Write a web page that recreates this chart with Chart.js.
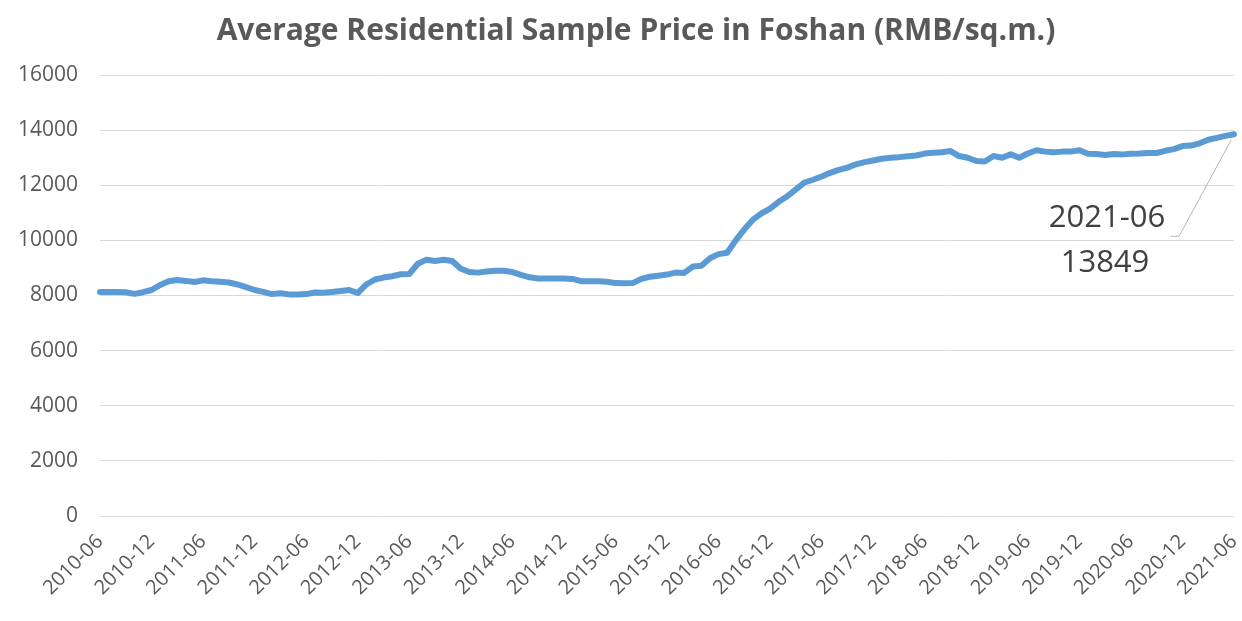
<!DOCTYPE html>
<html>
<head>
    <title>Average Residential Sample Price in Foshan</title>
    <script src="https://cdn.jsdelivr.net/npm/chart.js"></script>
    <style>
        * { margin: 0; padding: 0; box-sizing: border-box; }
        body { background: #ffffff; width: 1242px; height: 621px; overflow: hidden; }
        .chart-container { position: relative; width: 1242px; height: 621px; }
    </style>
</head>
<body>
    <div class="chart-container">
        <canvas id="priceChart"></canvas>
    </div>

    <script>
        // Months from 2010-06 to 2021-06
        const months = [];
        for (let y = 2010, m = 6; y < 2021 || (y === 2021 && m <= 6); m++) {
            if (m > 12) { m = 1; y++; }
            months.push(`${y}-${String(m).padStart(2, '0')}`);
        }

        // Average sample price (RMB/sq.m.), one value per month
        const prices = [
            8130, 8130, 8130, 8120, 8060, 8120, 8200,                           // 2010-06 .. 2010-12
            8380, 8520, 8560, 8530, 8490, 8550, 8520, 8500, 8470, 8400, 8300, 8200, // 2011
            8130, 8050, 8080, 8040, 8040, 8050, 8110, 8100, 8130, 8160, 8200, 8090, // 2012
            8400, 8580, 8650, 8700, 8770, 8780, 9150, 9300, 9250, 9300, 9250, 8970, // 2013
            8850, 8830, 8870, 8900, 8900, 8850, 8750, 8660, 8620, 8620, 8620, 8620, // 2014
            8600, 8520, 8520, 8520, 8500, 8450, 8440, 8450, 8600, 8680, 8720, 8760, // 2015
            8830, 8820, 9050, 9080, 9350, 9500, 9550, 10000, 10400, 10750, 10980, 11150, // 2016
            11400, 11600, 11850, 12100, 12200, 12320, 12450, 12560, 12640, 12760, 12840, 12900, // 2017
            12960, 13000, 13020, 13050, 13080, 13150, 13180, 13200, 13240, 13060, 13000, 12880, // 2018
            12860, 13060, 13000, 13120, 13000, 13150, 13270, 13220, 13200, 13220, 13220, 13270, // 2019
            13140, 13130, 13100, 13130, 13120, 13140, 13150, 13170, 13170, 13250, 13310, 13420, // 2020
            13440, 13520, 13650, 13720, 13790, 13849                             // 2021-01 .. 2021-06
        ];

        const yTicks = [0, 2000, 4000, 6000, 8000, 10000, 12000, 14000, 16000];

        const chartTitle = 'Average Residential Sample Price in Foshan (RMB/sq.m.)';

        const FONT = "'Open Sans', 'Noto Sans', sans-serif";

        // Title, drawn a little left of the plot centre as in the original
        const titlePlugin = {
            id: 'titlePlugin',
            afterDraw(chart) {
                const ctx = chart.ctx;
                ctx.save();
                ctx.fillStyle = '#595959';
                ctx.font = `bold 30px ${FONT}`;
                ctx.textAlign = 'center';
                ctx.textBaseline = 'middle';
                ctx.fillText(chartTitle, 636, 31);
                ctx.restore();
            }
        };

        // Callout for the last point
        const lastLabel = {
            id: 'lastLabel',
            afterDatasetsDraw(chart) {
                const meta = chart.getDatasetMeta(0);
                const pt = meta.data[meta.data.length - 1];
                const ctx = chart.ctx;
                ctx.save();
                ctx.strokeStyle = '#b4b4b4';
                ctx.lineWidth = 1;
                ctx.beginPath();
                ctx.moveTo(pt.x - 3, pt.y + 6);
                ctx.lineTo(pt.x - 55, pt.y + 102);
                ctx.lineTo(pt.x - 63, pt.y + 102);
                ctx.stroke();
                ctx.fillStyle = '#404040';
                ctx.font = `31px ${FONT}`;
                ctx.textAlign = 'center';
                ctx.textBaseline = 'middle';
                ctx.fillText(months[months.length - 1], pt.x - 127, pt.y + 84);
                ctx.fillText(String(prices[prices.length - 1]), pt.x - 129, pt.y + 129);
                ctx.restore();
            }
        };

        const config = {
            type: 'line',
            data: {
                labels: months,
                datasets: [{
                    data: prices,
                    borderColor: '#5b9bd5',
                    borderWidth: 6,
                    pointRadius: 0,
                    tension: 0,
                    borderJoinStyle: 'round',
                    borderCapStyle: 'round',
                    fill: false
                }]
            },
            options: {
                responsive: true,
                maintainAspectRatio: false,
                animation: false,
                layout: { padding: { left: 0, right: 8, top: 75, bottom: 0 } },
                scales: {
                    x: {
                        offset: false,
                        grid: { display: false, drawTicks: false },
                        border: { display: false },
                        ticks: {
                            autoSkip: false,
                            maxRotation: 45,
                            minRotation: 45,
                            padding: 14,
                            color: '#595959',
                            font: { family: FONT, size: 20 },
                            callback: (v, i) => (i % 6 === 0 ? months[i] : null)
                        },
                        afterFit: (s) => { s.height = 105; s.paddingLeft = 0; s.paddingRight = 0; }
                    },
                    y: {
                        min: 0,
                        max: 16000,
                        afterBuildTicks: (s) => { s.ticks = yTicks.map(v => ({ value: v })); },
                        grid: { color: '#d9d9d9', lineWidth: 1, drawTicks: false },
                        border: { display: false },
                        ticks: {
                            padding: 22,
                            color: '#595959',
                            font: { family: FONT, size: 21 },
                            callback: (v) => String(v)
                        },
                        afterFit: (s) => { s.width = 100; }
                    }
                },
                plugins: {
                    legend: { display: false },
                    tooltip: { enabled: false },
                    title: { display: false }
                }
            },
            plugins: [lastLabel, titlePlugin]
        };

        const ctx = document.getElementById('priceChart').getContext('2d');
        const chart = new Chart(ctx, config);
    </script>
</body>
</html>
